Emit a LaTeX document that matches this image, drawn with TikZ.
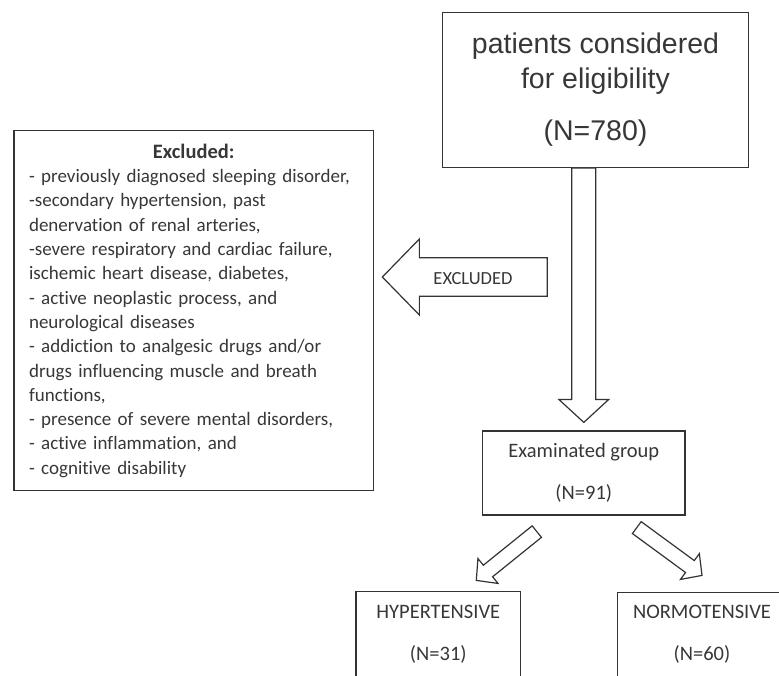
\documentclass[tikz,border=0pt]{standalone}
\usepackage{fontspec}
\setmainfont{Carlito}[Ligatures=NoCommon]
\newfontfamily\arialfont{Liberation Sans}
\usetikzlibrary{positioning, calc}
\definecolor{linegray}{RGB}{51,51,51}
\definecolor{textgray}{RGB}{55,55,55}

% hollow block arrow: from, to, half shaft, half head, head length
\newcommand{\fatarrow}[5]{%
  \coordinate (neck) at ($(#2)!#5!(#1)$);
  \draw[blockarrow] ($(#1)!#3!90:(#2)$) -- ($(neck)!#3!90:(#2)$)
    -- ($(neck)!#4!90:(#2)$) -- (#2) -- ($(neck)!#4!-90:(#2)$)
    -- ($(neck)!#3!-90:(#2)$) -- ($(#1)!#3!-90:(#2)$) -- cycle;}

\begin{document}
\begin{tikzpicture}[x=1pt, y=-1pt,
    bigbox/.style={draw=linegray, line width=1.2pt, minimum width=305.6pt, minimum height=155pt, align=center, text=textgray, font=\arialfont\fontsize{28.5}{35}\selectfont},
    listbox/.style={draw=linegray, line width=1.2pt, minimum width=359.3pt, minimum height=360pt, inner xsep=15pt, text width=329.3pt, align=left, text=textgray, font=\fontsize{19}{24.3}\selectfont},
    groupbox/.style={draw=linegray, line width=1.2pt, align=center, text=textgray, font=\fontsize{20.5}{25}\selectfont},
    blockarrow/.style={draw=linegray, line width=1.2pt, fill=white, line join=miter},
    tag/.style={text=textgray, font=\fontsize{18.5}{22}\selectfont}
]
    \useasboundingbox (0,0) rectangle (779,675);
    \clip (0,0) rectangle (779,675);

    % Boxes
    \node[bigbox] (top) at (595.5,89.8) {patients considered\\for eligibility\\[17pt](N=780)};
    \node[listbox] (excl) at (193.7,310.7) {{\centering\fontsize{20.5}{26}\selectfont\bfseries Excluded:\par}
        - previously diagnosed sleeping disorder,\\
        -secondary hypertension, past\\
        denervation of renal arteries,\\
        -severe respiratory and cardiac failure,\\
        ischemic heart disease, diabetes,\\
        - active neoplastic process, and\\
        neurological diseases\\
        - addiction to analgesic drugs and/or\\
        drugs influencing muscle and breath\\
        functions,\\
        - presence of severe mental disorders,\\
        - active inflammation, and\\
        - cognitive disability};
    \node[groupbox, minimum width=202.3pt, minimum height=84pt] (group) at (583.8,473) {Examinated group\\[17pt](N=91)};
    \node[groupbox, minimum width=164.7pt, minimum height=124pt] (hyper) at (438.3,653.7) {HYPERTENSIVE\\[17pt](N=31)\\[17pt]\mbox{}};
    \node[groupbox, minimum width=169.4pt, minimum height=122.6pt] (normo) at (702,654) {NORMOTENSIVE\\[17pt](N=60)\\[17pt]\mbox{}};

    % Down arrow
    \coordinate (downtail) at (group.north |- top.south);
    \coordinate (downtip) at ($(group.north)+(0,-8)$);
    \fatarrow{downtail}{downtip}{12pt}{25pt}{23pt}

    % Excluded arrow
    \coordinate (exctail) at (547.3,277);
    \coordinate (exctip) at ($(exctail -| excl.east)+(8.4,0)$);
    \fatarrow{exctail}{exctip}{19.2pt}{38pt}{37pt}
    \node[tag] (exctag) at (473,279) {EXCLUDED};

    % Split arrows
    \coordinate (lefttail) at ($(group.south)+(-47,16)$);
    \coordinate (lefttip) at ($(hyper.north)+(38,-10.7)$);
    \fatarrow{lefttail}{lefttip}{7.4pt}{16pt}{15pt}
    \coordinate (righttail) at ($(group.south)+(53,12)$);
    \coordinate (righttip) at ($(normo.north)+(0,-16.7)$);
    \fatarrow{righttail}{righttip}{7.4pt}{16pt}{15pt}
\end{tikzpicture}
\end{document}
